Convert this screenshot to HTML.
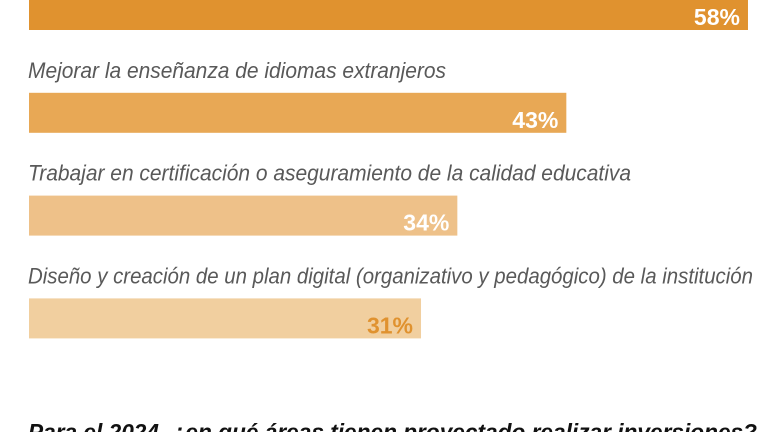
<!DOCTYPE html>
<html><head><meta charset="utf-8"><style>
html,body{margin:0;padding:0;background:#fff;width:770px;height:432px;overflow:hidden}
svg{display:block}
text{font-family:"Liberation Sans Narrow","Liberation Sans",sans-serif}
</style></head><body>
<svg width="770" height="432" id="chart"></svg>
<script>
const categories=["(categoría superior)","Mejorar la enseñanza de idiomas extranjeros","Trabajar en certificación o aseguramiento de la calidad educativa","Diseño y creación de un plan digital (organizativo y pedagógico) de la institución"];
const values=[58,43,34,31];
const valueLabels=["58%","43%","34%","31%"];
const colors=["#E0922F","#E8A855","#EEC189","#F1CF9F"];
const labelColors=["#fff","#fff","#fff","#E0922F"];
const labelWidths=[0,418,603,725];
const svg=document.getElementById('chart');
const NS="http://www.w3.org/2000/svg";
const xs=v=>45.6+12.11*v;
const barTop=i=>-10+i*102.8;
function mk(t,a){const e=document.createElementNS(NS,t);for(const k in a)e.setAttribute(k,a[k]);svg.appendChild(e);return e;}
values.forEach((v,i)=>{
  const y=barTop(i);
  if(i>0){
    const t=mk('text',{x:28,y:y-15,'font-size':22,'font-style':'italic',fill:'#595959',textLength:labelWidths[i],lengthAdjust:'spacingAndGlyphs'});
    
    
    t.textContent=categories[i];
  }
  const r=mk('rect',{x:29,y:y,width:xs(v)-29,height:40,fill:colors[i]});
  
  
  const vt=mk('text',{x:xs(v)-8,y:y+35,'font-size':23,'font-weight':'bold','text-anchor':'end',fill:labelColors[i]});
  
  
  vt.textContent=valueLabels[i];
});
const ti=mk('text',{x:28,y:440,'font-size':23,'font-weight':'bold','font-style':'italic',fill:'#111',textLength:729,lengthAdjust:'spacingAndGlyphs'});


ti.textContent="Para el 2024, ¿en qué áreas tienen proyectado realizar inversiones?";
</script>
</body></html>
